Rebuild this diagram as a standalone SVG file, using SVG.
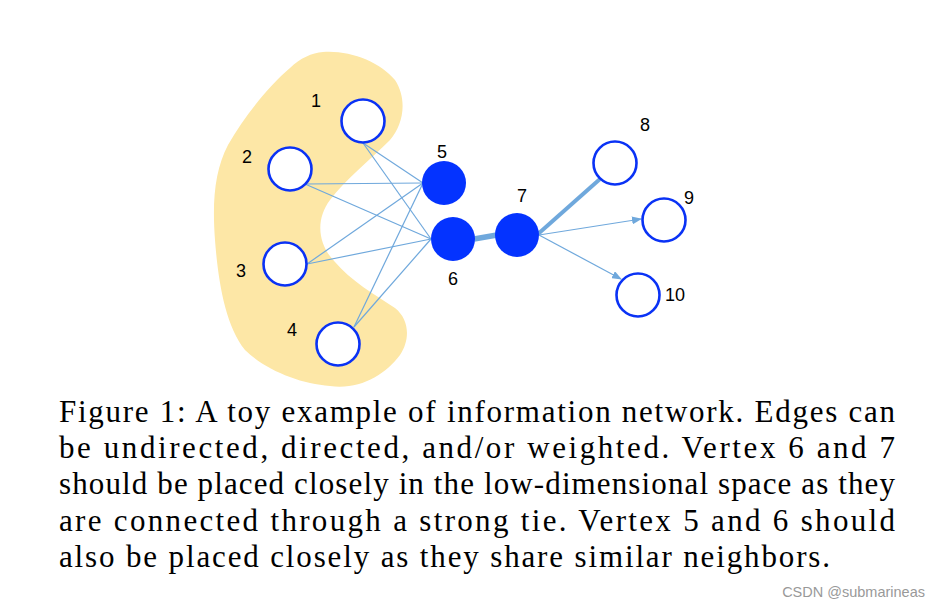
<svg xmlns="http://www.w3.org/2000/svg" width="941" height="606" viewBox="0 0 941 606">
<style>
.open{fill:#fff;stroke:#0a32f5;stroke-width:2.6}
.full{fill:#0433ff;stroke:none}
.lbl{font-family:"Liberation Sans",Arial,sans-serif;font-size:18px;fill:#000}
.e{stroke:#6fa8dc;stroke-width:1.2;fill:none}
.cap{font-family:"Liberation Serif","Times New Roman",serif;font-size:31px;fill:#000}
</style>
<defs>
<marker id="arr" markerWidth="10" markerHeight="8" refX="9" refY="4" orient="auto" markerUnits="userSpaceOnUse">
<path d="M0,0 L10,4 L0,8 z" fill="#6fa8dc"/>
</marker>
</defs>
<rect width="941" height="606" fill="#fff"/>
<path id="blob" d="M323,52 C350,50 380,62 395,80 C408,100 403,125 390,140 C370,160 345,180 330,200 C315,220 318,245 335,262 C350,280 375,295 395,308 C410,320 410,340 400,355 C385,375 360,390 330,386 C300,384 265,370 245,350 C225,325 218,280 215,240 C212,200 215,170 228,145 C245,115 270,85 290,68 C300,58 312,53 323,52 Z" fill="#fde7a6"/>
<g id="connectors">
<line class="e" x1="363" y1="143" x2="423" y2="183"/>
<line class="e" x1="363" y1="143" x2="431" y2="239"/>
<line class="e" x1="305" y1="184" x2="423" y2="183"/>
<line class="e" x1="305" y1="184" x2="431" y2="239"/>
<line class="e" x1="307" y1="264" x2="423" y2="183"/>
<line class="e" x1="307" y1="264" x2="431" y2="239"/>
<line class="e" x1="354" y1="327" x2="423" y2="183"/>
<line class="e" x1="354" y1="327" x2="431" y2="239"/>
<line x1="474" y1="239" x2="497" y2="235" stroke="#6fa8dc" stroke-width="5.5"/>
<line x1="538" y1="234" x2="600" y2="179" stroke="#6fa8dc" stroke-width="4"/>
<line class="e" x1="539" y1="235" x2="641" y2="219" marker-end="url(#arr)"/>
<line class="e" x1="539" y1="235" x2="621" y2="279" marker-end="url(#arr)"/>
</g>
<g id="n1"><circle class="open" cx="363" cy="121" r="21.5"/><text class="lbl" x="311" y="107">1</text></g>
<g id="n2"><circle class="open" cx="290" cy="169" r="21.5"/><text class="lbl" x="242" y="163">2</text></g>
<g id="n3"><circle class="open" cx="285" cy="264" r="21.5"/><text class="lbl" x="236" y="277">3</text></g>
<g id="n4"><circle class="open" cx="338" cy="344" r="21.5"/><text class="lbl" x="287" y="336">4</text></g>
<g id="n5"><circle class="full" cx="444" cy="183" r="22"/><text class="lbl" x="437" y="158">5</text></g>
<g id="n6"><circle class="full" cx="453" cy="239" r="22"/><text class="lbl" x="448" y="285">6</text></g>
<g id="n7"><circle class="full" cx="517" cy="235" r="22"/><text class="lbl" x="517" y="202">7</text></g>
<g id="n8"><circle class="open" cx="615" cy="163" r="21.5"/><text class="lbl" x="640" y="131">8</text></g>
<g id="n9"><circle class="open" cx="664" cy="220" r="21.5"/><text class="lbl" x="684" y="204">9</text></g>
<g id="n10"><circle class="open" cx="638" cy="295" r="21.5"/><text class="lbl" x="665" y="301">10</text></g>
<g id="caption">
<text class="cap" x="59" y="422" textLength="836" lengthAdjust="spacing">Figure 1: A toy example of information network. Edges can</text>
<text class="cap" x="59" y="458" textLength="836" lengthAdjust="spacing">be undirected, directed, and/or weighted. Vertex 6 and 7</text>
<text class="cap" x="59" y="494" textLength="836" lengthAdjust="spacing">should be placed closely in the low-dimensional space as they</text>
<text class="cap" x="59" y="531" textLength="836" lengthAdjust="spacing">are connected through a strong tie. Vertex 5 and 6 should</text>
<text class="cap" x="59" y="567" textLength="771" lengthAdjust="spacing">also be placed closely as they share similar neighbors.</text>
</g>
<text x="925" y="597" text-anchor="end" font-family="'Liberation Sans',Arial,sans-serif" font-size="14.5" fill="#999">CSDN @submarineas</text>
</svg>
